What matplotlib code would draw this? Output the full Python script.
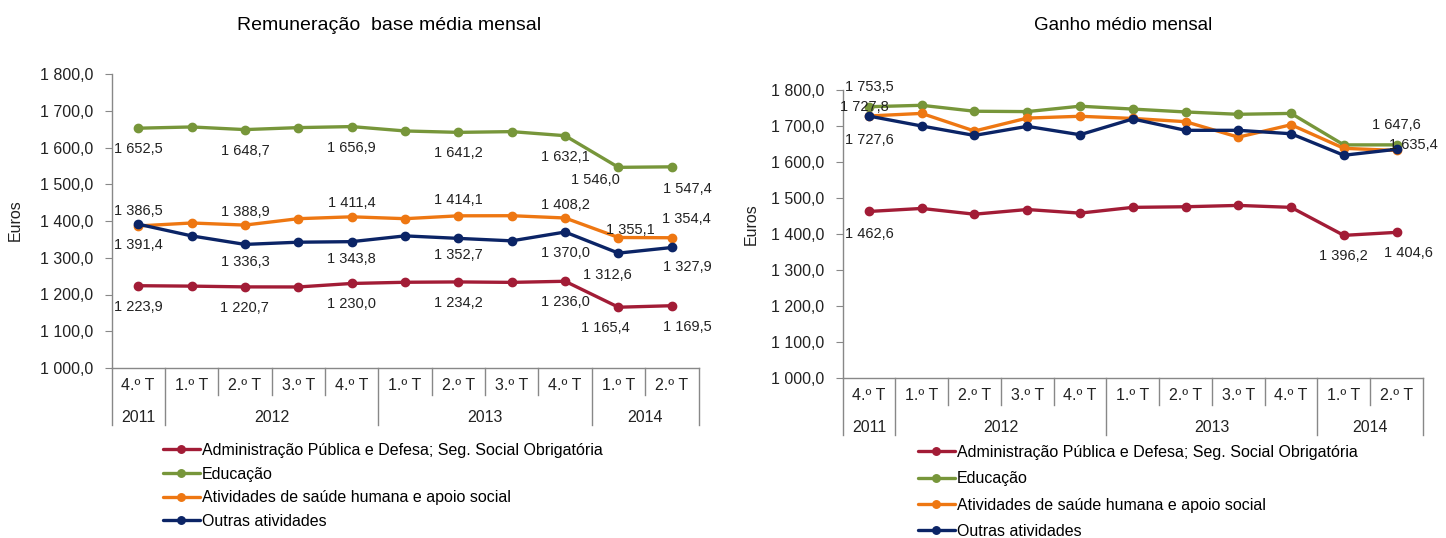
import matplotlib
matplotlib.use('Agg')
import matplotlib.pyplot as plt
from matplotlib.ticker import FuncFormatter, MultipleLocator
from matplotlib.lines import Line2D

plt.rcParams['font.family'] = ['Liberation Sans', 'DejaVu Sans']

# categorias (trimestre / ano)
quarters = ['4.º T', '1.º T', '2.º T', '3.º T', '4.º T',
            '1.º T', '2.º T', '3.º T', '4.º T', '1.º T', '2.º T']
years = ['2011', '2012', '2013', '2014']
year_counts = [1, 4, 4, 2]

series_names = ['Administração Pública e Defesa; Seg. Social Obrigatória',
                'Educação',
                'Atividades de saúde humana e apoio social',
                'Outras atividades']
colors = ['#A21C36', '#77963A', '#EE7712', '#0B2466']

# Remuneração base média mensal (euros)
base_admin = [1223.9, 1222.8, 1220.7, 1220.5, 1230.0, 1233.3, 1234.2, 1233.0, 1236.0, 1165.4, 1169.5]
base_educ = [1652.5, 1655.9, 1648.7, 1654.1, 1656.9, 1645.0, 1641.2, 1643.2, 1632.1, 1546.0, 1547.4]
base_saude = [1386.5, 1394.6, 1388.9, 1406.3, 1411.4, 1406.3, 1414.1, 1414.4, 1408.2, 1355.1, 1354.4]
base_outras = [1391.4, 1359.5, 1336.3, 1342.3, 1343.8, 1359.5, 1352.7, 1346.0, 1370.0, 1312.6, 1327.9]

# Ganho médio mensal (euros)
ganho_admin = [1462.6, 1471.0, 1455.0, 1468.0, 1458.0, 1474.0, 1475.7, 1479.4, 1474.0, 1396.2, 1404.6]
ganho_educ = [1753.5, 1757.5, 1741.0, 1740.0, 1755.0, 1747.0, 1739.0, 1732.5, 1735.0, 1647.5, 1647.6]
ganho_saude = [1727.8, 1735.0, 1686.0, 1722.0, 1727.0, 1721.0, 1712.0, 1669.0, 1703.5, 1638.0, 1632.0]
ganho_outras = [1727.6, 1700.0, 1673.8, 1699.0, 1675.7, 1719.6, 1688.0, 1688.0, 1678.5, 1618.7, 1635.4]

W, H = 1446, 538


def fmt(v):
    return f'{v:,.1f}'.replace(',', ' ').replace('.', ',')


# rótulos de dados: (série, índice, dx, dy) em pixels
left_labels = (
    [(1, i, 0, -21) for i in (0, 2, 4, 6, 8)] + [(1, 9, -23, -13), (1, 10, 16, -22)] +
    [(2, 0, 0, 15), (2, 2, 0, 13), (2, 4, 0, 14), (2, 6, 0, 16), (2, 8, 0, 13),
     (2, 9, 12, 8), (2, 10, 15, 19)] +
    [(3, 0, 0, -21), (3, 2, 0, -18), (3, 4, 0, -17), (3, 6, 0, -17), (3, 8, 0, -21),
     (3, 9, -11, -22), (3, 10, 16, -20)] +
    [(0, i, 0, -21) for i in (0, 2, 4, 6, 8)] + [(0, 9, -13, -21), (0, 10, 16, -21)]
)
right_labels = [(1, 0, 0, 20), (1, 10, 0, 20), (2, 0, -5, 9), (3, 0, 0, -24),
                (3, 10, 17, 4), (0, 0, 0, -23), (0, 9, 0, -21), (0, 10, 12, -21)]


def draw_panel(rect, data, labels, title, title_x, title_fs, ylab_x, ylab_y, leg_y, leg_x, leg_gap):
    ax = fig.add_axes(rect)
    x = list(range(len(quarters)))
    for vals, c, name in zip(data, colors, series_names):
        ax.plot(x, vals, color=c, lw=2.4, marker='o', ms=6, label=name, solid_capstyle='round')
    for s, i, dx, dy in labels:
        ax.annotate(fmt(data[s][i]), (i, data[s][i]), xytext=(dx, dy),
                    textcoords='offset pixels', ha='center', va='center',
                    fontsize=10.5, color='#222222', annotation_clip=False)
    ax.set_ylim(1000, 1800)
    ax.set_xlim(-0.5, len(quarters) - 0.5)
    ax.yaxis.set_major_locator(MultipleLocator(100))
    ax.yaxis.set_major_formatter(FuncFormatter(lambda v, p: fmt(v)))
    ax.tick_params(axis='y', direction='out', length=5, color='#888888',
                   labelsize=11.5, labelcolor='#222222', pad=8)
    ax.set_xticks([])
    for sp in ('top', 'right'):
        ax.spines[sp].set_visible(False)
    for sp in ('left', 'bottom'):
        ax.spines[sp].set_color('#888888')
        ax.spines[sp].set_linewidth(1.0)

    # eixo de categorias com dois níveis
    hpx = rect[3] * H
    tr = ax.get_xaxis_transform()
    year_edges = [-0.5]
    for n in year_counts:
        year_edges.append(year_edges[-1] + n)
    for k in range(len(quarters) + 1):
        b = k - 0.5
        depth = 57 if b in year_edges else 27
        ax.add_line(Line2D([b, b], [0, -depth / hpx], transform=tr, color='#888888',
                           lw=1.0, clip_on=False))
    for i, q in enumerate(quarters):
        ax.text(i, -18 / hpx, q, transform=tr, ha='center', va='center',
                fontsize=11.5, color='#222222')
    for k, yr in enumerate(years):
        mid = (year_edges[k] + year_edges[k + 1]) / 2
        ax.text(mid, -49 / hpx, yr, transform=tr, ha='center', va='center',
                fontsize=11.5, color='#222222')

    fig.text(title_x / W, 1 - 25 / H, title, ha='center', va='center', fontsize=title_fs)
    fig.text(ylab_x / W, 1 - ylab_y / H, 'Euros', rotation=90, ha='center', va='center',
             fontsize=11.5, color='#222222')
    ax.legend(loc='upper left', bbox_to_anchor=(leg_x / W, 1 - leg_y / H),
              bbox_transform=fig.transFigure, frameon=False, fontsize=11.5,
              handlelength=2.3, handletextpad=0.15, labelspacing=leg_gap,
              borderpad=0, borderaxespad=0, markerscale=0.9)
    return ax


fig = plt.figure(figsize=(W / 100, H / 100), dpi=100)

draw_panel([111.5 / W, 1 - 368 / H, 587 / W, 294 / H],
           [base_admin, base_educ, base_saude, base_outras], left_labels,
           'Remuneração  base média mensal', 389.5, 14, 15, 220, 443, 163, 0.54)
draw_panel([842.5 / W, 1 - 378 / H, 580.5 / W, 288 / H],
           [ganho_admin, ganho_educ, ganho_saude, ganho_outras], right_labels,
           'Ganho médio mensal', 1123, 13.5, 751, 224, 445, 918, 0.71)

fig.savefig('out.png', dpi=100)
